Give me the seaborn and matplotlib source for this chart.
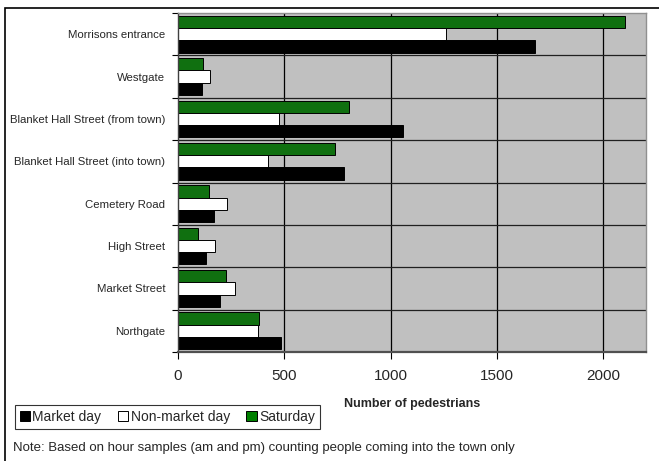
import numpy as np
import pandas as pd
import matplotlib
matplotlib.use("Agg")
import matplotlib.pyplot as plt
from matplotlib.patches import Patch, Rectangle
import seaborn as sns

# data
locations = [
    "Morrisons entrance",
    "Westgate",
    "Blanket Hall Street (from town)",
    "Blanket Hall Street (into town)",
    "Cemetery Road",
    "High Street",
    "Market Street",
    "Northgate",
]
market_day = [1680, 113, 1060, 782, 169, 132, 198, 483]
non_market_day = [1260, 150, 477, 423, 232, 175, 267, 378]
saturday = [2100, 118, 804, 737, 144, 94, 226, 380]

series_names = ["Market day", "Non-market day", "Saturday"]
colors = {"Market day": "#000000", "Non-market day": "#FFFFFF", "Saturday": "#008000"}

df = pd.DataFrame({
    "location": locations * 3,
    "day": [series_names[0]] * 8 + [series_names[1]] * 8 + [series_names[2]] * 8,
    "count": market_day + non_market_day + saturday,
})

sns.set_theme(style="white")
plt.rcParams["font.family"] = ["Liberation Sans", "DejaVu Sans"]

fig = plt.figure(figsize=(6.59, 4.61), dpi=100)
ax = fig.add_axes([178 / 659, 1 - 352 / 461, (646 - 178) / 659, (352 - 13) / 461])
ax.set_facecolor("#C0C0C0")

sns.barplot(
    data=df, y="location", x="count", hue="day",
    order=locations, hue_order=["Saturday", "Non-market day", "Market day"],
    palette=colors, orient="h", width=0.87,
    edgecolor="black", linewidth=0.7, legend=False, ax=ax,
)

ax.set_xlim(0, 2200)
ax.set_ylim(7.5, -0.5)
ax.set_xticks([0, 500, 1000, 1500, 2000])
ax.set_yticks(range(len(locations)))
ax.set_yticklabels(locations, fontsize=8.2)
ax.set_yticks(np.arange(-0.5, 8, 1), minor=True)
ax.tick_params(axis="y", which="major", length=0, pad=9)
ax.tick_params(axis="y", which="minor", length=4, width=0.8, color="black", direction="out", left=True)
ax.tick_params(axis="x", which="major", length=5, width=0.8, color="black", direction="out",
               bottom=True, labelsize=11, pad=7)

# gridlines behind the bars
ax.set_axisbelow(True)
ax.grid(False)
for v in [500, 1000, 1500, 2000]:
    ax.axvline(v, color="black", lw=0.9, zorder=0)
for b in np.arange(0.5, 7, 1):
    ax.axhline(b, color="#202020", lw=0.9, zorder=0)

for side in ["top", "right"]:
    ax.spines[side].set_color("#909090")
    ax.spines[side].set_linewidth(1.0)
ax.spines["left"].set_color("#404040")
ax.spines["left"].set_linewidth(1.0)
ax.spines["bottom"].set_color("#505050")
ax.spines["bottom"].set_linewidth(1.6)

ax.set_ylabel("")
ax.set_xlabel("Number of pedestrians", fontsize=9, fontweight="bold", labelpad=11)

handles = [Patch(facecolor=colors[n], edgecolor="black", linewidth=0.7, label=n) for n in series_names]
fig.legend(
    handles=handles, loc="upper left", bbox_to_anchor=(15 / 659, 1 - 405 / 461),
    ncol=3, fontsize=10, frameon=True, fancybox=False, edgecolor="black",
    handlelength=0.75, handleheight=0.75, handletextpad=0.15, columnspacing=1.2,
    borderpad=0.35, borderaxespad=0,
)
fig.legends[0].get_frame().set_linewidth(0.8)

fig.text(13 / 659, 1 - 448 / 461,
         "Note: Based on hour samples (am and pm) counting people coming into the town only",
         fontsize=9.5, va="center", ha="left")

# outer chart border (only top and left edges are visible in the reference)
fig.patches.append(Rectangle((5 / 659, -0.1), 1.2, 1 - 8 / 461 + 0.1,
                             transform=fig.transFigure, fill=False,
                             edgecolor="black", lw=1.2))

fig.savefig("out.png", dpi=100)
